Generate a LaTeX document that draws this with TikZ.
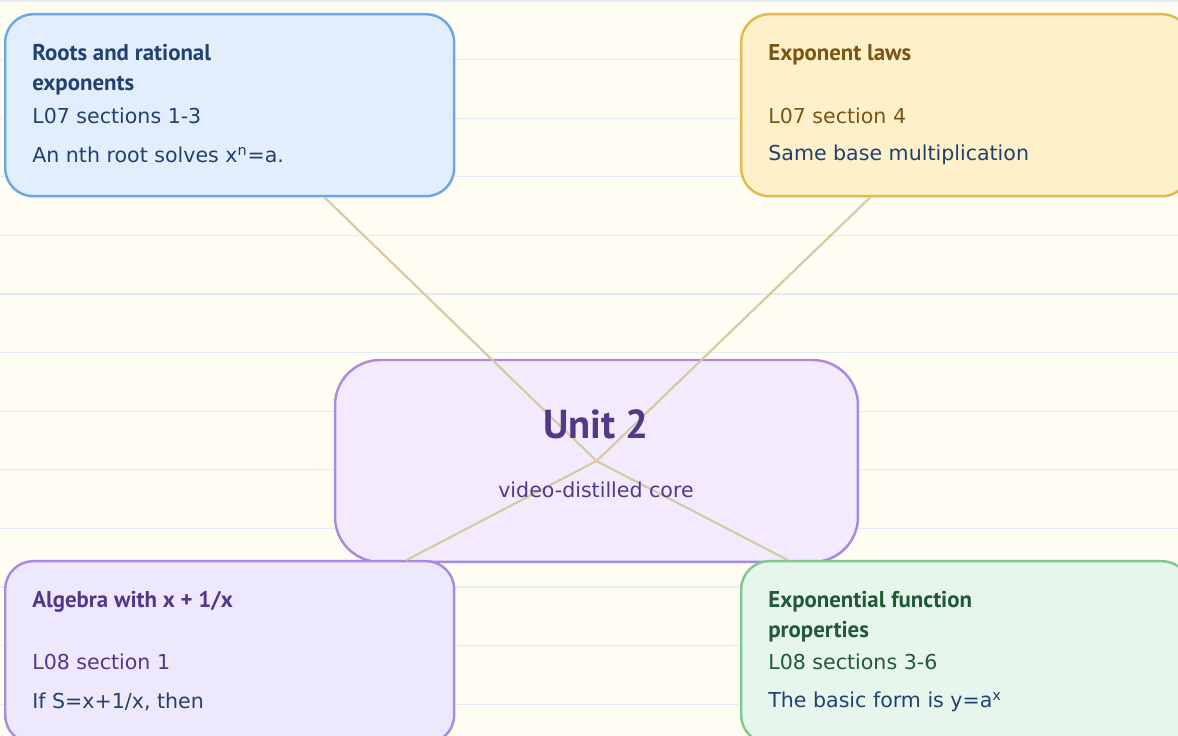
\documentclass[tikz,border=0pt]{standalone}
\usepackage{fontspec}
\setmainfont{DejaVu Sans}
\newfontfamily\headfont{PT Sans}
\usepackage{xcolor}
\usetikzlibrary{calc}
\definecolor{paper}{HTML}{FFFCF2}
\definecolor{rule}{HTML}{E3EBF3}
\definecolor{link}{HTML}{D9C9A3}
\definecolor{navy}{HTML}{22416F}
\definecolor{blueline}{HTML}{6BA6E6}
\definecolor{bluefill}{HTML}{E3EEFD}
\definecolor{goldline}{HTML}{E3B94C}
\definecolor{goldfill}{HTML}{FEF0C9}
\definecolor{brown}{HTML}{7A5515}
\definecolor{lilacline}{HTML}{A88BE0}
\definecolor{lilacfill}{HTML}{F1EBFD}
\definecolor{lilacfillb}{HTML}{EEE8FC}
\definecolor{plum}{HTML}{523889}
\definecolor{greenline}{HTML}{80C98D}
\definecolor{greenfill}{HTML}{E7F6EC}
\definecolor{forest}{HTML}{1F5A35}
\tikzset{
  card/.style={draw, line width=1.4pt, rounded corners=0.56cm, minimum width=8.98cm, minimum height=3.64cm, inner sep=0pt},
  hub/.style={draw=lilacline, fill=lilacfill, line width=1.4pt, rounded corners=0.9cm, minimum width=10.46cm, minimum height=4.04cm, inner sep=0pt},
  link/.style={draw=link, line width=1.2pt},
  head/.style={anchor=west, inner sep=0pt, font=\headfont\bfseries\fontsize{13}{17}\selectfont, align=left},
  body/.style={anchor=west, inner sep=0pt, font=\fontsize{11.7}{14}\selectfont},
}

\begin{document}
\begin{tikzpicture}[x=0.02cm,y=-0.02cm]
  \clip (0,0) rectangle (1178,736);
  \fill[paper] (0,0) rectangle (1178,736);
  % ruled paper
  \foreach \k in {0,...,12}
    \draw[rule, line width=0.6pt] (0,1+58.6*\k) -- (1178,1+58.6*\k);

  % centre and the four cards
  \node[hub] (unit) at (596.5,461) {};
  \node[card, draw=blueline, fill=bluefill, anchor=north west] (roots) at (4,13) {};
  \node[card, draw=goldline, fill=goldfill, anchor=north west] (laws) at (740,13) {};
  \node[card, draw=lilacline, fill=lilacfillb, anchor=north west] (algebra) at (4,560) {};
  \node[card, draw=greenline, fill=greenfill, anchor=north west] (expfn) at (740,560) {};

  \foreach \t in {roots,laws,algebra,expfn}
    \draw[link] (unit.center) -- (\t);

  % hub text
  \node[inner sep=0pt, text=plum, font=\headfont\bfseries\fontsize{23}{28}\selectfont] (unitname) at (596,424) {Unit 2};
  \node[inner sep=0pt, text=plum, font=\fontsize{11.7}{14}\selectfont] (unitsub) at (596,490) {video-distilled core};

  % roots
  \node[head, text=navy] (rootshead) at (32,70) {Roots and rational\\exponents};
  \node[body, text=navy] (rootsref) at (32,116) {L07 sections 1-3};
  \node[body, text=navy] (rootsnote) at (32,155) {An nth root solves x\textsuperscript{n}=a.};

  % laws
  \node[head, text=brown] (lawshead) at (768,55) {Exponent laws};
  \node[body, text=brown] (lawsref) at (768,116) {L07 section 4};
  \node[body, text=navy] (lawsnote) at (768,155) {Same base multiplication};

  % algebra
  \node[head, text=plum] (alghead) at (32,602) {Algebra with x + 1/x};
  \node[body, text=plum] (algref) at (32,662) {L08 section 1};
  \node[body, text=navy] (algnote) at (32,702) {If S=x+1/x, then};

  % exponential function
  \node[head, text=forest] (exphead) at (768,617) {Exponential function\\properties};
  \node[body, text=forest] (expref) at (768,662) {L08 sections 3-6};
  \node[body, text=navy] (expnote) at (768,702) {The basic form is y=a\textsuperscript{x}};
\end{tikzpicture}
\end{document}
